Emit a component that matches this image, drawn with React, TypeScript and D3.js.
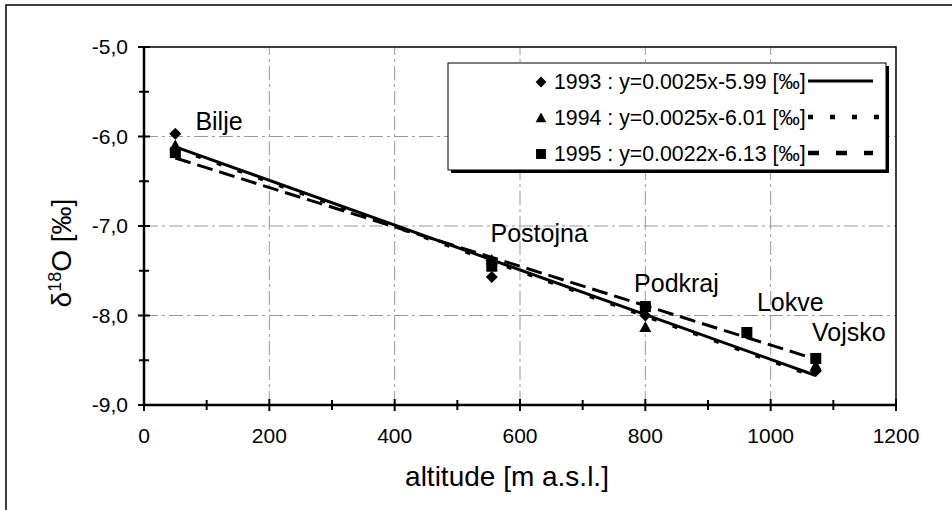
import React from "react";
import * as d3 from "d3";

// Sampling stations and their altitudes [m a.s.l.]
const stations = ["Bilje", "Postojna", "Podkraj", "Lokve", "Vojsko"];
const altitude = [50, 555, 800, 962, 1072];

// Mean δ18O [‰] per station and year (null = no sample)
const d1993: (number | null)[] = [-5.97, -7.57, -8.0, null, -8.62];
const d1994: (number | null)[] = [-6.1, -7.38, -8.13, null, -8.56];
const d1995: (number | null)[] = [-6.18, -7.45, -7.9, -8.19, -8.48];

// Regression of δ18O on altitude (gradient magnitude and intercept)
const years = ["1993", "1994", "1995"];
const gradients = [0.0025, 0.0025, 0.0022];
const intercepts = [-5.99, -6.01, -6.13];

// Station label anchors in data units (altitude, δ18O)
const labelAlt = [82, 553, 782, 978, 1066];
const labelVal = [-5.93, -7.18, -7.74, -7.95, -8.29];

const xTicks = [0, 200, 400, 600, 800, 1000, 1200];
const xMinor = [100, 300, 500, 700, 900, 1100];
const yTicks = [-9, -8, -7, -6, -5];
const yMinor = [-8.5, -7.5, -6.5, -5.5];

const W = 952;
const H = 510;

const x = d3.scaleLinear().domain([0, 1200]).range([144, 896]);
const y = d3.scaleLinear().domain([-9, -5]).range([405, 47]);

const FONT = "'Liberation Sans', Arial, sans-serif";

type Series = { year: string; values: (number | null)[]; marker: string; dash: string | null };
const series: Series[] = [
  { year: years[0], values: d1993, marker: "diamond", dash: null },
  { year: years[1], values: d1994, marker: "triangle", dash: "5 17" },
  { year: years[2], values: d1995, marker: "square", dash: "16 7" },
];

function Marker({ kind, cx, cy, s = 1 }: { kind: string; cx: number; cy: number; s?: number }) {
  if (kind === "diamond") {
    const r = 6 * s;
    return <path d={`M${cx},${cy - r}L${cx + r},${cy}L${cx},${cy + r}L${cx - r},${cy}Z`} fill="#000" />;
  }
  if (kind === "triangle") {
    const r = 6 * s;
    return <path d={`M${cx},${cy - r}L${cx + r},${cy + r * 0.8}L${cx - r},${cy + r * 0.8}Z`} fill="#000" />;
  }
  const h = 5.5 * s;
  return <rect x={cx - h} y={cy - h} width={2 * h} height={2 * h} fill="#000" />;
}

function fmtY(v: number) {
  return d3.format(".1f")(v).replace(".", ",").replace("−", "-");
}

export default function App() {
  const line = d3
    .line<[number, number]>()
    .x((d) => x(d[0]))
    .y((d) => y(d[1]));

  const legendX = 448;
  const legendY = 63;
  const legendW = 438;
  const legendH = 107;
  const rowY = [82, 118, 154];

  return (
    <svg
      width={W}
      height={H}
      style={{ position: "absolute", left: 0, top: 0, background: "#fff" }}
      fontFamily={FONT}
    >
      <rect x={0} y={0} width={W} height={H} fill="#fff" />
      {/* outer chart frame */}
      <path d={`M6,${H + 2}V5H${W + 2}`} fill="none" stroke="#000" strokeWidth={1.5} />

      {/* gridlines */}
      {yTicks
        .filter((t) => t > -9 && t < -5)
        .map((t) => (
          <line key={`gy${t}`} x1={x(0)} x2={x(1200)} y1={y(t)} y2={y(t)} stroke="#9a9a9a" strokeWidth={1} strokeDasharray="14 4 3 4" />
        ))}
      {xTicks
        .filter((t) => t > 0 && t < 1200)
        .map((t) => (
          <line key={`gx${t}`} x1={x(t)} x2={x(t)} y1={y(-9)} y2={y(-5)} stroke="#9a9a9a" strokeWidth={1} strokeDasharray="14 4 3 4" />
        ))}

      {/* plot frame: top and right */}
      <path d={`M${x(0)},${y(-5)}H${x(1200)}V${y(-9)}`} fill="none" stroke="#000" strokeWidth={1.5} />

      {/* axes */}
      <line x1={x(0)} x2={x(1200)} y1={y(-9)} y2={y(-9)} stroke="#000" strokeWidth={2.5} />
      <line x1={x(0)} x2={x(0)} y1={y(-9)} y2={y(-5)} stroke="#000" strokeWidth={2.5} />
      {xTicks.map((t) => (
        <line key={`xt${t}`} x1={x(t)} x2={x(t)} y1={y(-9) - 6} y2={y(-9) + 6} stroke="#000" strokeWidth={2} />
      ))}
      {xMinor.map((t) => (
        <line key={`xm${t}`} x1={x(t)} x2={x(t)} y1={y(-9) - 5} y2={y(-9) + 5} stroke="#000" strokeWidth={2} />
      ))}
      {yTicks.map((t) => (
        <line key={`yt${t}`} x1={x(0) - 6} x2={x(0) + 6} y1={y(t)} y2={y(t)} stroke="#000" strokeWidth={2} />
      ))}
      {yMinor.map((t) => (
        <line key={`ym${t}`} x1={x(0) - 5} x2={x(0) + 5} y1={y(t)} y2={y(t)} stroke="#000" strokeWidth={2} />
      ))}

      {xTicks.map((t) => (
        <text key={`xl${t}`} x={x(t)} y={y(-9) + 38} textAnchor="middle" fontSize={21} fill="#000">
          {t}
        </text>
      ))}
      {yTicks.map((t) => (
        <text key={`yl${t}`} x={128} y={y(t) + 7} textAnchor="end" fontSize={21} fill="#000">
          {fmtY(t)}
        </text>
      ))}

      {/* axis titles */}
      <text x={507} y={486} textAnchor="middle" fontSize={28} fill="#000">
        altitude [m a.s.l.]
      </text>
      <text transform={`translate(71,253) rotate(-90)`} textAnchor="middle" fontSize={28} fill="#000">
        δ<tspan dy={-10} fontSize={18}>18</tspan>
        <tspan dy={10}>O [‰]</tspan>
      </text>

      {/* regression lines */}
      {series.map((s, i) => {
        const alts = altitude.filter((_, k) => s.values[k] !== null);
        const a0 = d3.min(alts)!;
        const a1 = d3.max(alts)!;
        const f = (a: number) => intercepts[i] - gradients[i] * a;
        return (
          <path
            key={`trend${s.year}`}
            d={line([
              [a0, f(a0)],
              [a1, f(a1)],
            ])!}
            fill="none"
            stroke="#000"
            strokeWidth={3}
            strokeDasharray={s.dash ?? undefined}
          />
        );
      })}

      {/* measured values */}
      {series.map((s) =>
        s.values.map((v, k) =>
          v === null ? null : <Marker key={`m${s.year}${k}`} kind={s.marker} cx={x(altitude[k])} cy={y(v)} />
        )
      )}

      {/* station labels */}
      {stations.map((name, k) => (
        <text key={name} x={x(labelAlt[k])} y={y(labelVal[k])} fontSize={25} fill="#000">
          {name}
        </text>
      ))}

      {/* legend */}
      <rect x={legendX + 3} y={legendY + 3} width={legendW} height={legendH} fill="#000" />
      <rect x={legendX} y={legendY} width={legendW} height={legendH} fill="#fff" stroke="#000" strokeWidth={1} />
      {series.map((s, i) => (
        <g key={`lg${s.year}`}>
          <Marker kind={s.marker} cx={541} cy={rowY[i]} s={0.9} />
          <text x={554} y={rowY[i] + 7} fontSize={21.3} fill="#000">
            {`${s.year} : y=${gradients[i].toFixed(4)}x${intercepts[i].toFixed(2)} [‰]`}
          </text>
          <line
            x1={808}
            x2={i === 1 ? 885 : 873}
            y1={rowY[i] - 1}
            y2={rowY[i] - 1}
            stroke="#000"
            strokeWidth={i === 0 ? 3 : 4.5}
            strokeDasharray={i === 0 ? undefined : i === 1 ? "5 17" : "11 17"}
          />
        </g>
      ))}
    </svg>
  );
}
